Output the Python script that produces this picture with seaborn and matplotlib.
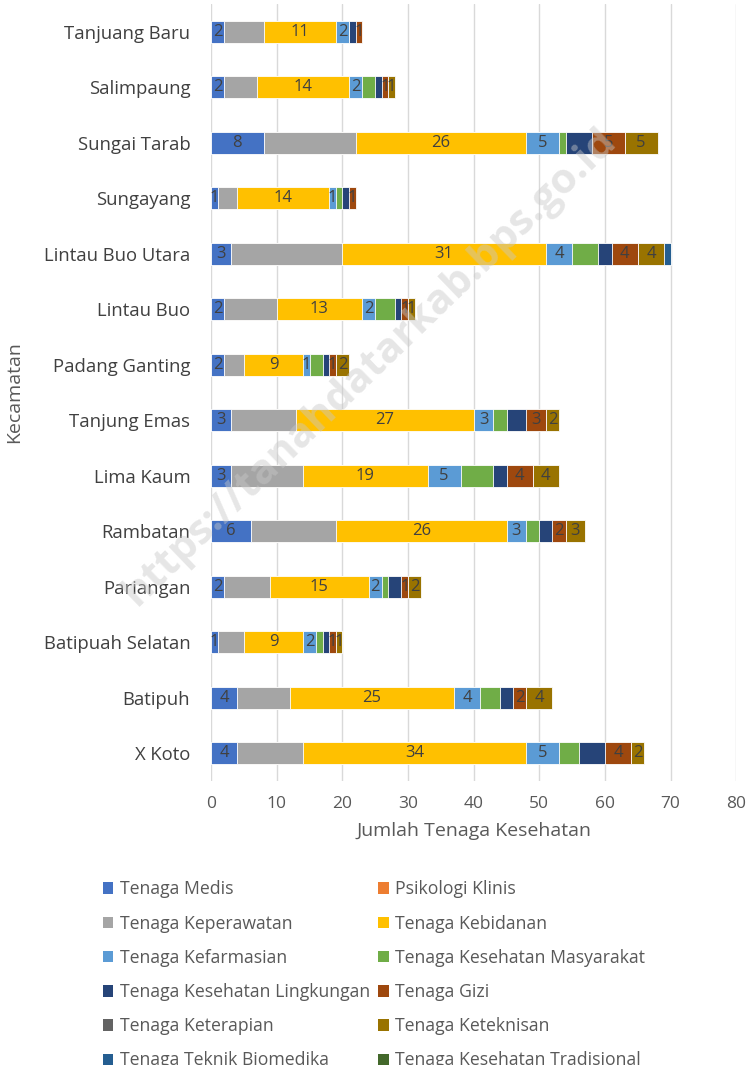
import numpy as np
import pandas as pd
import seaborn as sns
import matplotlib.pyplot as plt
from matplotlib.patches import Patch

# kecamatan, urut dari atas ke bawah
kecamatan = ["Tanjuang Baru", "Salimpaung", "Sungai Tarab", "Sungayang",
             "Lintau Buo Utara", "Lintau Buo", "Padang Ganting", "Tanjung Emas",
             "Lima Kaum", "Rambatan", "Pariangan", "Batipuah Selatan",
             "Batipuh", "X Koto"]

medis        = [2, 2, 8, 1, 3, 2, 2, 3, 3, 6, 2, 1, 4, 4]
psikologi    = [0, 0, 0, 0, 0, 0, 0, 0, 0, 0, 0, 0, 0, 0]
keperawatan  = [6, 5, 14, 3, 17, 8, 3, 10, 11, 13, 7, 4, 8, 10]
kebidanan    = [11, 14, 26, 14, 31, 13, 9, 27, 19, 26, 15, 9, 25, 34]
kefarmasian  = [2, 2, 5, 1, 4, 2, 1, 3, 5, 3, 2, 2, 4, 5]
kesmas       = [0, 2, 1, 1, 4, 3, 2, 2, 5, 2, 1, 1, 3, 3]
kesling      = [1, 1, 4, 1, 2, 1, 1, 3, 2, 2, 2, 1, 2, 4]
gizi         = [1, 1, 5, 1, 4, 1, 1, 3, 4, 2, 1, 1, 2, 4]
keterapian   = [0, 0, 0, 0, 0, 0, 0, 0, 0, 0, 0, 0, 0, 0]
keteknisan   = [0, 1, 5, 0, 4, 1, 2, 2, 4, 3, 2, 1, 4, 2]
biomedika    = [0, 0, 0, 0, 1, 0, 0, 0, 0, 0, 0, 0, 0, 0]
tradisional  = [0, 0, 0, 0, 0, 0, 0, 0, 0, 0, 0, 0, 0, 0]

nama_seri = ["Tenaga Medis", "Psikologi Klinis", "Tenaga Keperawatan",
             "Tenaga Kebidanan", "Tenaga Kefarmasian", "Tenaga Kesehatan Masyarakat",
             "Tenaga Kesehatan Lingkungan", "Tenaga Gizi", "Tenaga Keterapian",
             "Tenaga Keteknisan", "Tenaga Teknik Biomedika",
             "Tenaga Kesehatan Tradisional"]
nilai_seri = [medis, psikologi, keperawatan, kebidanan, kefarmasian, kesmas,
              kesling, gizi, keterapian, keteknisan, biomedika, tradisional]
warna = ["#4472C4", "#ED7D31", "#A5A5A5", "#FFC000", "#5B9BD5", "#70AD47",
         "#264478", "#9E480E", "#636363", "#997300", "#255E91", "#43682B"]
# seri yang diberi label angka
berlabel = {"Tenaga Medis", "Tenaga Kebidanan", "Tenaga Kefarmasian",
            "Tenaga Gizi", "Tenaga Keteknisan"}

sns.set_style("white")
plt.rcParams['font.family'] = ['Open Sans', 'DejaVu Sans']

df = pd.DataFrame(dict(zip(nama_seri, nilai_seri)), index=kecamatan)
kumulatif = df.cumsum(axis=1)

fig = plt.figure(figsize=(7.46, 10.65), dpi=100)
ax = fig.add_axes([0.283, 0.2667, 0.704, 0.7296])

# gambar dari seri terakhir supaya tumpukan tertutup dengan benar
for nama, c in reversed(list(zip(nama_seri, warna))):
    sns.barplot(x=kumulatif[nama].values, y=kecamatan, orient="h", color=c,
                width=0.39, edgecolor="white", linewidth=0.6, ax=ax,
                saturation=1)

for nama in nama_seri:
    if nama not in berlabel:
        continue
    for i, k in enumerate(kecamatan):
        v = df.loc[k, nama]
        if v > 0:
            tengah = kumulatif.loc[k, nama] - v / 2
            ax.text(tengah, i, str(v), ha="center", va="center",
                    fontsize=12, color="#404040")

ax.set_xlim(0, 80)
ax.set_xticks(np.arange(0, 81, 10))
ax.grid(axis="x", color="#d9d9d9", linewidth=1)
ax.set_axisbelow(True)
for s in ax.spines.values():
    s.set_visible(False)
ax.tick_params(axis="x", length=0, labelsize=12.5, labelcolor="#595959", pad=11)
ax.tick_params(axis="y", length=0, labelsize=13.3, labelcolor="#404040", pad=15)
ax.set_xlabel("Jumlah Tenaga Kesehatan", fontsize=14, color="#595959", labelpad=7)
ax.set_ylabel("Kecamatan", fontsize=14, color="#595959")
ax.yaxis.set_label_coords(-0.358, 0.5)

# legenda dua kolom, diisi per baris
urut = [0, 2, 4, 6, 8, 10, 1, 3, 5, 7, 9, 11]
handles = [Patch(facecolor=warna[i], edgecolor="none") for i in urut]
labels = [nama_seri[i] for i in urut]
fig.legend(handles, labels, loc="upper left", bbox_to_anchor=(0.128, 0.18),
           ncol=2, frameon=False, fontsize=12.7, labelcolor="#595959",
           handlelength=0.62, handleheight=0.62, handletextpad=0.35,
           labelspacing=0.92, columnspacing=0.45, borderaxespad=0)

fig.text(0.496, 0.655, "https://tanahdatarkab.bps.go.id", rotation=44,
         ha="center", va="center", fontsize=30, fontweight="bold",
         color="#c8c8c8", alpha=0.45)

fig.savefig("out.png", dpi=100)
